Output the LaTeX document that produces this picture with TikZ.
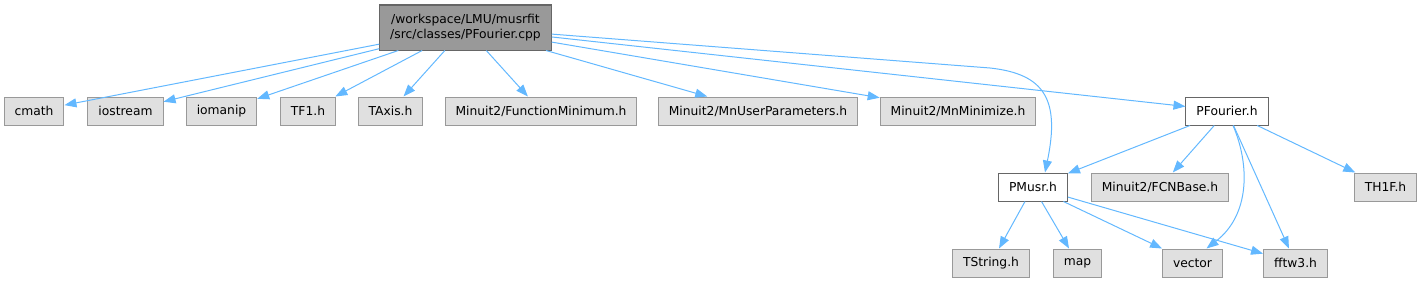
\documentclass[tikz,border=0pt]{standalone}
\usepackage{fontspec}
\setmainfont{DejaVu Sans}
\usetikzlibrary{graphs}
\usetikzlibrary{arrows.meta}

\definecolor{edgeblue}{HTML}{63B8FF}
\definecolor{boxgray}{HTML}{E0E0E0}
\definecolor{rimgray}{HTML}{999999}
\definecolor{rimdark}{HTML}{666666}

\begin{document}
\begin{tikzpicture}[x=1pt,y=1pt,
	>={Triangle[length=12pt,width=9pt]},
	hdrbox/.style={draw=rimdark,fill=white},
	mainbox/.style={draw=rimdark,fill=rimgray,align=center,minimum height=45pt},
	edgeline/.style={draw=edgeblue,line width=1pt}]
	\useasboundingbox (0,0) rectangle (1423,282);
	
	\begin{scope}[every node/.style={draw=rimgray,fill=boxgray,line width=1pt,inner xsep=10.5pt,minimum height=28pt,font=\fontsize{12.3}{15}\selectfont}]
		\node[mainbox] (root) at (465.5,254.5) {/workspace/LMU/musrfit\\/src/classes/PFourier.cpp};
		
		\node (cmath) at (34,171) {cmath};
		\node (iostream) at (125.5,171) {iostream};
		\node (iomanip) at (221.5,171) {iomanip};
		\node (TFone) at (308,171) {TF1.h};
		\node (TAxis) at (390.5,171) {TAxis.h};
		\node (FuncMin) at (541,171) {Minuit2/FunctionMinimum.h};
		\node (UserPar) at (758,171) {Minuit2/MnUserParameters.h};
		\node (Minimize) at (958,171) {Minuit2/MnMinimize.h};
		\node[hdrbox] (PFourier) at (1227,171) {PFourier.h};
		
		\node[hdrbox] (PMusr) at (1033,95) {PMusr.h};
		\node (FCNBase) at (1160,95) {Minuit2/FCNBase.h};
		\node (THoneF) at (1385.5,95) {TH1F.h};
		
		\node (TString) at (991,19) {TString.h};
		\node (map) at (1077.5,19) {map};
		\node (vector) at (1192.5,19) {vector};
		\node (fftw) at (1295.5,19) {fftw3.h};
	\end{scope}
	
	\graph [edges={edgeline}] {
		(root) -> {(cmath), (iostream), (iomanip), (TFone), (TAxis), (FuncMin), (UserPar), (Minimize), (PFourier)};
		(PFourier) -> {(PMusr), (FCNBase), (THoneF), (fftw)};
		(PMusr) -> {(TString), (map), (vector), (fftw)};
	};
	
	\draw[edgeline,->] (root) -- (990,214) .. controls (1045,208) and (1060,182) .. ([xshift=12pt]PMusr.north);
	\draw[edgeline,->] ([xshift=6pt]PFourier.south) .. controls (1250,117) and (1250,67) .. ([xshift=14pt]vector.north);
\end{tikzpicture}
\end{document}
